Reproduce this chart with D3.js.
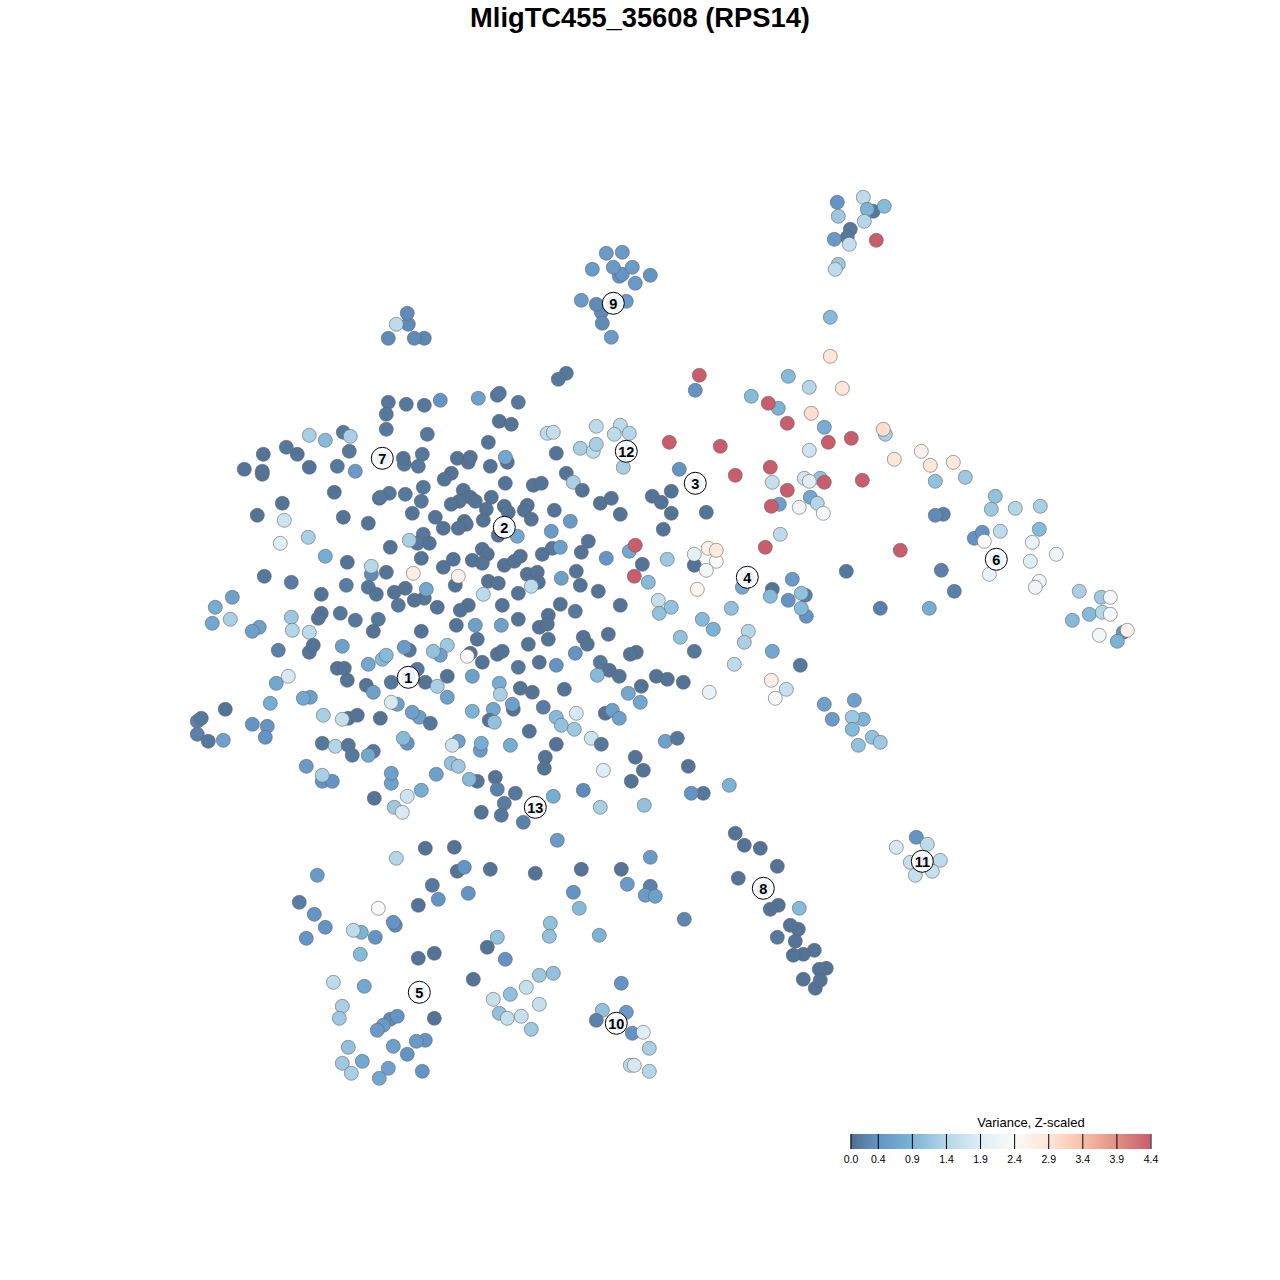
<!DOCTYPE html>
<html>
<head>
<meta charset="utf-8">
<title>MligTC455_35608 (RPS14)</title>
<script src="https://cdn.jsdelivr.net/npm/d3@7"></script>
<style>
  html, body { margin: 0; padding: 0; background: #fff; }
  svg { display: block; font-family: "Liberation Sans", Arial, sans-serif; }
</style>
</head>
<body>
<div id="viz"></div>
<script>
var titleText = "MligTC455_35608 (RPS14)";
var legendTitle = "Variance, Z-scaled";

// cells as [tsne x, tsne y, variance]; dark cells near zero
var cellsUpperLeft = [
  [-25.2,23.8,0.1],[-23.4,23.6,0.1],[-21.6,23.5,0.1],[-25.4,22.6,0.1],[-25.4,21.1,0.1],[-21.3,20.6,0.1],
  [-29.7,20.8,0.1],[-33.1,20.5,1.3],[-31.5,20.0,1.0],[-29.0,20.4,1.3],[-35.4,19.3,0.1],[-34.3,18.6,0.05],
  [-37.7,18.6,0.05],[-29.1,18.9,0.1],[-39.6,17.1,0.05],[-37.8,16.6,0.05],[-37.8,16.9,0.05],[-33.1,17.3,0.05],
  [-30.3,17.4,0.1],[-28.5,16.9,0.5],[-23.6,17.6,0.1],[-23.7,18.2,0.05],[-21.8,18.6,0.1],[-22.2,17.4,0.1],
  [-30.6,14.8,0.05],[-25.1,14.7,0.1],[-26.1,14.2,0.05],[-26.0,14.3,0.1],[-23.5,14.6,0.1],[-21.7,15.3,0.1],
  [-21.9,13.9,0.1],[-35.8,13.7,0.05],[-38.3,12.5,0.05],[-35.6,12.0,1.7],[-29.7,12.3,0.05],[-27.2,11.7,0.05],
  [-22.8,12.7,0.05],[-33.2,10.3,1.3],[-36.0,9.7,1.9],[-31.5,8.4,0.8],[-29.3,7.8,0.05],[-21.7,10.6,0.1],
  [-22.3,9.7,0.1],[-21.1,9.7,0.05],[-23.1,10.0,1.3],[-25.0,9.3,0.05],[-21.9,8.2,0.05],[-26.9,6.6,0.3],
  [-26.9,7.4,1.4],[-25.4,6.8,0.05],[-22.7,6.7,2.7],[-37.6,6.4,0.1],[-34.9,5.8,0.15],[-29.4,5.5,0.15],
  [-27.2,5.3,0.1],[-26.4,4.6,0.05],[-24.6,4.8,0.05],[-23.5,5.2,0.05],[-21.6,4.2,0.1],[-21.4,5.1,0.7],
  [-22.6,4.0,0.05],[-24.2,3.5,0.1],[-31.9,4.6,0.05],[-40.8,4.3,0.6],[-42.5,3.3,0.8],[-31.9,2.7,0.05],
  [-32.2,2.2,0.05],[-30.0,2.7,0.1],[-28.5,2.0,0.1],[-26.2,2.1,0.1],[-34.9,2.3,1.2],[-41.0,2.1,1.3],
  [-42.8,1.7,0.7],[-38.1,1.3,0.6],[-38.8,0.9,0.6],[-34.8,1.0,1.4],[-33.1,0.8,1.5],[-26.7,0.9,0.05],[-21.9,0.9,0.05]
];

var cellsUpperCentre = [
  [-20.0,24.0,0.4],[-16.2,24.2,0.6],[-14.3,24.5,0.1],[-14.1,24.7,0.1],[-12.2,23.8,0.1],[-14.1,21.9,0.05],
  [-12.9,21.6,0.05],[-15.2,19.8,0.05],[-8.4,18.7,0.05],[-9.3,20.7,1.5],[-8.7,20.8,1.6],[-4.4,21.4,1.5],
  [-2.0,21.5,1.5],[-2.6,20.6,1.5],[-1.1,20.7,1.4],[-6.0,19.2,1.3],[-4.7,18.9,1.5],[-4.4,19.6,1.3],
  [-1.7,17.3,1.3],[2.9,19.8,4.4],[3.9,17.1,0.4],[-18.3,18.2,0.05],[-17.2,17.8,0.05],[-17.0,18.3,0.05],
  [-15.0,17.4,0.05],[-13.3,17.8,0.05],[-13.5,18.3,0.7],[-18.9,16.7,0.05],[-19.6,16.1,0.05],[-13.5,15.7,0.05],
  [-10.7,15.5,0.05],[-9.9,15.7,0.05],[-7.4,16.7,0.05],[-6.7,15.8,1.3],[-5.8,15.0,0.05],[-17.7,15.0,0.05],
  [-17.0,14.3,0.05],[-18.1,13.9,0.05],[-18.9,13.6,0.05],[-16.5,13.9,0.05],[-14.9,14.3,0.05],[-13.6,13.4,0.05],
  [-11.3,13.5,0.05],[-13.2,12.8,0.05],[-11.6,13.0,0.05],[-15.4,13.1,0.05],[-8.6,13.0,0.05],[-10.9,12.1,0.05],
  [-20.5,12.3,0.05],[-19.7,11.2,0.05],[-17.6,11.9,0.05],[-17.4,11.6,0.05],[-18.2,11.2,0.05],[-15.7,12.0,0.05],
  [-7.0,11.9,0.5],[-4.0,13.7,0.05],[-2.9,14.2,0.05],[-2.0,12.6,0.05],[1.2,14.4,0.05],[2.1,13.8,0.05],
  [3.1,14.9,0.05],[3.1,12.7,0.05],[2.3,11.1,0.05],[-8.9,10.9,0.5],[-14.2,10.5,0.05],[-12.3,10.4,0.7],
  [-5.2,9.9,0.05],[-5.9,8.8,0.05],[-8.8,9.2,0.1],[-8.0,9.3,0.6],[-9.8,8.6,0.05],[-15.8,9.1,0.05],
  [-15.3,8.6,0.05],[-16.8,8.0,0.05],[-15.8,7.7,0.05],[-18.7,8.1,0.05],[-19.7,7.3,0.05],[-13.6,7.5,0.05],
  [-12.6,7.9,0.05],[-12.0,8.4,0.05],[-3.4,8.2,0.4],[-1.1,8.9,0.7],[-0.5,9.5,4.4],[0.2,7.6,0.05],
  [2.7,8.1,1.2],[-6.4,6.9,0.05],[-0.6,6.4,4.4],[0.8,5.8,1.0],[-11.3,6.6,0.05],[-10.3,6.8,0.05],
  [-10.2,5.8,0.05],[-7.9,6.2,0.6],[-10.9,5.4,1.5],[-15.2,5.9,0.05],[-14.2,5.7,0.05],[-18.5,5.5,0.05],
  [-18.2,6.4,2.6],[-6.0,5.5,0.05],[-4.2,4.9,0.05],[-15.7,4.6,1.5],[-12.2,4.7,0.05],[1.8,4.0,1.6],
  [1.9,2.7,1.1],[3.1,3.3,1.1],[-2.0,3.5,0.05],[-17.2,3.5,0.05],[-18.0,3.0,0.05],[-13.8,3.5,0.05],
  [-20.3,3.3,0.05],[-8.0,3.6,0.05],[-6.5,2.9,0.1],[-9.2,2.5,0.05],[-12.2,2.1,0.05],[-18.4,1.5,0.05],
  [-16.5,1.5,0.6],[-13.9,1.5,0.6],[-10.1,1.3,0.05],[-9.3,1.6,0.05]
];

var cellsLowerLeft = [
  [-36.2,-1.0,0.2],[-33.1,-1.2,0.05],[-32.7,-0.5,0.05],[-29.8,-0.6,0.6],[-23.1,-1.0,0.1],[-23.6,-0.7,0.5],
  [-30.3,-2.8,0.05],[-29.6,-2.8,0.05],[-27.2,-2.4,0.7],[-25.8,-1.9,1.0],[-25.4,-1.5,1.0],[-22.3,-2.9,0.1],
  [-29.3,-4.0,0.05],[-24.9,-4.2,0.1],[-21.5,-4.2,0.05],[-36.4,-4.3,0.7],[-35.2,-3.6,1.8],[-27.4,-4.5,0.05],
  [-26.7,-5.2,0.6],[-37.0,-6.3,0.8],[-33.0,-5.7,0.6],[-33.7,-5.8,0.7],[-24.3,-6.4,0.6],[-24.9,-6.2,1.8],
  [-22.1,-7.7,0.6],[-22.8,-7.2,0.6],[-21.0,-8.3,0.1],[-31.7,-7.5,1.3],[-29.2,-7.8,0.05],[-29.8,-7.9,1.6],
  [-28.3,-7.5,0.05],[-26.0,-7.8,0.05],[-41.5,-6.9,0.05],[-44.3,-8.1,0.2],[-43.9,-7.8,0.1],[-44.3,-9.4,0.2],
  [-43.2,-10.1,0.1],[-41.7,-10.0,0.6],[-38.8,-8.4,0.4],[-37.3,-8.6,0.4],[-37.5,-9.7,0.4],[-31.8,-10.3,0.1],
  [-30.5,-10.6,1.4],[-29.2,-10.5,0.1],[-28.8,-11.5,0.1],[-26.7,-11.1,0.1],[-27.2,-11.5,0.7],[-23.3,-10.3,0.4],
  [-23.7,-9.8,1.0],[-33.4,-12.6,0.5],[-31.8,-14.1,0.4],[-30.8,-14.1,0.4],[-31.8,-13.5,1.3],[-24.9,-14.3,0.6],
  [-24.9,-13.3,0.6],[-21.9,-15.0,0.8],[-26.6,-15.8,0.05],[-23.3,-15.6,1.7],[-24.6,-16.7,1.2],[-23.8,-17.2,1.8]
];

var cellsLowerCentre = [
  [-16.3,0.1,0.05],[-9.2,0.1,0.05],[-11.2,-0.4,0.05],[-5.7,0.3,0.05],[-5.3,-0.4,0.05],[-3.2,0.6,0.05],
  [4.0,0.3,1.1],[-19.3,-0.5,1.2],[-20.0,-1.5,0.6],[-20.7,-1.1,1.1],[-17.0,-1.3,0.05],[-17.3,-1.6,2.4],
  [-15.8,-2.2,0.05],[-14.3,-1.4,0.05],[-13.8,-1.1,0.05],[-6.5,-1.3,0.4],[-0.4,-1.2,0.05],[-1.0,-1.4,0.05],
  [-12.2,-2.7,0.1],[-10.1,-2.2,0.05],[-8.4,-2.5,0.4],[-4.0,-2.2,0.1],[-3.1,-3.0,0.05],[-2.1,-3.6,0.05],
  [-4.3,-3.5,1.0],[-19.3,-3.6,0.05],[-16.8,-3.6,0.6],[1.6,-3.6,0.05],[2.7,-3.9,0.05],[4.3,-4.2,0.05],
  [-14.1,-4.3,0.8],[-20.3,-4.6,1.3],[-12.0,-4.8,0.05],[-10.8,-5.2,0.05],[-7.6,-4.9,0.05],[-14.0,-5.4,1.3],
  [0.1,-4.6,0.05],[-1.2,-5.3,0.7],[0.0,-6.2,0.7],[-19.3,-5.7,0.6],[-12.7,-6.9,0.05],[-12.8,-6.4,0.6],
  [-9.7,-6.7,0.15],[-16.8,-7.1,0.9],[-14.7,-6.9,0.7],[-15.1,-8.0,0.05],[-14.6,-8.2,1.1],[-8.4,-7.7,1.0],
  [-7.9,-8.5,1.1],[-6.4,-7.3,1.8],[-6.6,-8.9,1.2],[-3.5,-7.3,0.05],[-2.8,-7.0,0.6],[-2.1,-7.8,0.6],
  [-11.1,-9.1,0.05],[-4.9,-9.8,1.7],[-3.9,-10.4,0.1],[-18.2,-10.1,0.6],[-18.8,-10.5,1.7],
  [-16.0,-11.0,0.5],[-15.9,-10.3,0.8],[-13.0,-10.5,0.8],[-8.4,-10.4,0.05],[2.5,-10.1,0.6],[3.7,-9.8,0.1],
  [-9.5,-11.7,0.05],[-9.6,-12.8,0.05],[-0.5,-11.7,0.05],[0.3,-13.0,0.05],[-18.9,-12.3,1.1],[-18.2,-12.6,1.2],
  [-3.7,-13.0,1.9],[-20.4,-13.4,0.6],[-16.3,-14.1,0.05],[-17.1,-13.9,1.0],[-14.5,-13.7,0.05],[-0.9,-14.1,0.05],
  [-14.3,-14.9,0.2],[-12.5,-15.3,0.1],[-8.7,-15.6,0.8],[-5.7,-15.0,0.3],[-13.6,-16.3,0.15],[-15.9,-17.2,0.05],
  [-13.9,-17.5,0.1],[-11.7,-18.2,0.2],[-4.0,-16.7,1.3],[0.4,-16.5,1.1],[-8.3,-20.0,0.5]
];

var cellsUpperRight = [
  [5.9,26.5,4.4],[5.5,25.0,0.4],[14.8,26.4,1.0],[16.9,25.3,1.4],[20.2,25.2,2.9],[11.1,24.4,1.0],
  [13.8,23.2,0.9],[12.8,23.7,4.4],[17.1,22.7,3.0],[14.7,21.7,4.4],[18.4,21.3,0.8],[24.5,20.6,1.3],
  [24.3,21.1,3.0],[18.8,19.8,4.4],[21.1,20.2,4.4],[8.0,19.4,4.4],[16.9,19.0,1.7],[25.4,18.1,2.9],
  [13.0,17.3,4.4],[9.5,16.5,4.4],[13.2,15.8,1.6],[18.0,16.2,1.1],[16.4,16.2,1.7],[16.9,15.9,1.9],
  [18.4,15.8,4.4],[22.2,16.0,4.4],[14.7,15.0,4.4],[17.0,14.3,0.7],[13.9,13.6,0.6],[13.1,13.4,4.4],
  [17.7,13.7,1.4],[15.9,13.3,2.2],[18.3,12.7,2.3],[6.6,12.8,0.05],[14.0,10.6,1.5],[12.5,9.3,4.4],
  [26.0,9.0,4.4],[5.4,7.5,0.05],[5.4,8.6,2.0],[6.8,9.2,2.6],[7.6,7.9,2.4],[7.6,9.0,2.8],
  [6.6,7.0,2.3],[5.7,5.1,2.5],[20.6,6.9,0.1],[10.2,5.3,0.7],[15.2,6.1,0.5],[13.2,5.1,0.05],
  [13.0,4.4,1.0],[16.6,2.4,0.4],[16.5,4.5,0.2],[16.1,4.7,1.1],[14.8,4.0,0.4],[16.1,3.2,1.0]
];

var cellsTail = [
  [28.1,18.9,2.6],[29.0,17.5,2.9],[31.3,17.8,2.8],[29.5,15.9,1.1],[32.5,16.3,1.2],[35.5,14.4,1.1],
  [35.1,13.1,1.2],[37.5,13.2,1.4],[40.0,13.4,1.3],[30.3,12.6,0.2],[29.5,12.5,0.3],[33.4,10.2,0.4],
  [34.2,10.8,0.4],[34.4,9.9,2.4],[36.0,10.9,1.5],[39.9,11.1,1.0],[39.2,9.8,2.1],[41.6,8.6,2.2],
  [39.0,7.9,1.9],[30.1,7.0,0.2],[34.9,6.6,2.1],[31.4,4.9,0.2],[39.9,5.9,2.2],[39.5,5.3,2.2],
  [28.9,3.2,0.8],[43.9,4.9,1.3],[46.1,4.3,1.2],[44.9,2.6,1.0],[46.2,2.8,1.4],[47.0,4.3,2.3],
  [47.0,2.6,2.3],[43.2,2.0,1.0],[48.3,0.8,0.4],[48.7,1.0,2.6],[47.7,-0.1,0.9],[45.9,0.5,2.3]
];

var cellsMiddleRight = [
  [24.0,3.2,0.2],[9.1,3.2,1.1],[6.2,2.1,1.0],[7.3,1.1,0.9],[10.8,0.9,1.4],[10.4,-0.2,1.3],
  [5.4,-1.1,0.1],[13.2,-1.1,0.7],[9.4,-2.4,1.5],[16.0,-2.5,0.1],[13.1,-4.0,2.7],[14.6,-4.9,1.6],
  [13.5,-5.8,2.4],[6.9,-5.2,2.1],[18.4,-6.4,0.6],[21.4,-6.0,0.6],[19.2,-7.9,0.5],[22.3,-7.9,0.9],
  [21.2,-7.7,1.2],[21.2,-8.9,1.0],[23.2,-9.7,1.1],[24.0,-10.2,1.2],[21.8,-10.5,1.1],[4.8,-12.6,0.05],
  [8.9,-14.5,0.9],[6.3,-15.3,0.1],[5.1,-15.3,0.4]
];

var cellsLowerRight = [
  [9.5,-19.3,0.05],[10.4,-20.5,0.05],[12.0,-20.8,0.05],[13.7,-22.6,0.05],[9.8,-23.8,0.05],[13.8,-26.5,0.05],
  [13.0,-26.9,0.05],[15.9,-26.8,1.0],[15.8,-28.9,0.05],[15.0,-28.5,0.05],[13.7,-29.7,0.1],[15.5,-30.1,0.05],
  [17.4,-31.0,0.05],[16.3,-31.4,0.05],[15.3,-31.5,0.05],[18.6,-32.8,0.05],[17.9,-32.9,0.05],[16.3,-33.9,0.05],
  [17.5,-34.8,0.05],[18.0,-34.0,0.05],[27.6,-19.7,0.4],[28.7,-20.4,1.5],[25.6,-20.7,1.8],[27.0,-22.2,1.6],
  [30.0,-22.0,1.5],[29.2,-23.1,1.6],[27.5,-23.5,1.6]
];

var cellsBottom = [
  [-21.5,-20.8,0.05],[-18.6,-20.7,0.05],[-24.4,-21.8,1.4],[-18.3,-23.1,0.05],[-17.6,-22.7,0.4],[-15.0,-22.9,0.05],
  [-32.3,-23.5,0.5],[-20.8,-24.5,0.1],[-17.2,-25.3,0.4],[-34.1,-26.2,0.15],[-20.2,-25.9,0.4],[-22.2,-26.5,0.05],
  [-32.6,-27.4,0.4],[-26.2,-26.8,2.4],[-24.5,-28.5,0.3],[-24.7,-28.2,0.4],[-31.5,-28.7,0.4],[-27.9,-29.2,0.9],
  [-28.7,-29.0,1.5],[-26.5,-29.7,0.4],[-33.4,-29.8,0.4],[-28.0,-31.4,1.0],[-14.3,-29.7,1.1],[-15.3,-30.7,0.05],
  [-13.5,-31.9,0.4],[-22.2,-31.8,0.05],[-20.6,-31.3,0.05],[-30.7,-34.2,1.5],[-27.6,-34.6,0.7],[-16.7,-33.9,0.05],
  [-13.0,-35.4,1.1],[-11.4,-34.7,1.6],[-14.7,-35.9,1.6],[-29.8,-36.6,1.3],[-30.1,-37.8,1.2],[-14.1,-37.3,1.1],
  [-13.3,-37.8,1.6],[-11.9,-37.6,1.6],[-10.9,-38.9,1.2],[-20.6,-37.8,0.05],[-25.0,-37.9,0.3],[-24.3,-37.6,0.4],
  [-25.7,-38.5,0.5],[-26.3,-39.0,0.5],[-21.5,-40.0,0.4],[-22.4,-40.1,0.5],[-24.7,-40.6,0.6],[-29.2,-40.7,1.1],
  [-23.3,-41.4,0.4],[-29.8,-42.3,1.2],[-27.8,-42.1,0.7],[-28.9,-43.3,1.3],[-25.2,-42.8,0.6],[-21.8,-43.1,0.4],
  [-26.1,-43.8,0.7],[-10.5,-23.3,0.05],[-5.9,-22.9,0.05],[-1.9,-22.9,0.05],[1.0,-21.7,0.5],[-1.3,-24.4,0.5],
  [1.0,-24.6,0.2],[0.5,-25.5,0.5],[1.5,-25.6,0.6],[-6.7,-25.2,0.4],[-6.1,-26.8,1.0],[4.4,-27.9,0.25],
  [-9.0,-28.3,1.1],[-9.1,-29.6,1.1],[-4.1,-29.5,0.9],[-1.9,-34.3,0.4],[-10.1,-33.5,1.2],[-8.7,-33.3,1.1],
  [-10.1,-36.4,1.6],[-3.8,-37.0,1.1],[-1.4,-37.2,0.5],[-4.4,-38.0,0.2],[-0.8,-39.3,0.4],[0.3,-39.2,1.9],
  [0.9,-40.8,1.3],[-1.0,-42.5,1.5],[-0.6,-42.5,1.8],[0.9,-43.1,1.4]
];

var cellsTop = [
  [-3.4,38.7,0.5],[-1.8,38.8,0.5],[-4.8,37.1,0.5],[-2.1,36.4,0.4],[-1.8,36.6,0.4],[-2.7,37.3,0.5],
  [-0.8,37.3,0.5],[1.0,36.5,0.4],[-0.5,35.7,0.5],[-5.9,34.0,0.5],[-1.4,33.9,0.5],[-3.9,32.8,0.3],
  [-4.4,33.6,0.3],[-3.8,31.7,0.3],[-2.9,30.3,0.5],[-23.2,31.6,0.3],[-23.3,32.7,0.3],[-24.4,31.6,1.5],
  [-25.2,30.2,0.3],[-21.6,30.2,0.25],[-22.6,30.2,0.3],[-7.4,26.7,0.1],[-8.2,26.1,0.1],
  [22.3,44.3,1.5],[19.7,43.8,0.4],[23.3,42.9,0.1],[22.7,43.1,0.9],[24.4,43.4,1.0],[19.8,42.4,1.2],
  [22.4,41.9,1.4],[21.0,41.1,0.1],[20.7,40.3,0.1],[19.4,40.1,0.5],[20.9,39.6,1.6],[23.6,40.0,4.4],
  [19.8,37.6,1.2],[19.5,37.1,1.5],[19.0,32.3,1.0],[19.0,28.4,2.9]
];

var allCells = [].concat(cellsUpperLeft, cellsUpperCentre, cellsLowerLeft, cellsLowerCentre,
  cellsUpperRight, cellsTail, cellsMiddleRight, cellsLowerRight, cellsBottom, cellsTop);

var clusterNames = ["1","2","3","4","5","6","7","8","9","10","11","12","13"];
var clusterX = [-23.2,-13.6,5.5,10.7,-22.1,35.6,-25.8,12.3,-2.7,-2.4,28.2,-1.4,-10.5];
var clusterY = [-3.7,11.3,15.7,6.3,-35.2,8.1,18.2,-24.8,33.7,-38.3,-22.1,18.9,-16.7];

var legendTicks = [0,0.4,0.9,1.4,1.9,2.4,2.9,3.4,3.9,4.4];
var legendColours = ["#053061","#2166AC","#4393C3","#92C5DE","#D1E5F0","#F7F7F7","#FDDBC7","#F4A582","#D6604D","#B2182B"];

var width = 1280, height = 1280;

var svg = d3.select("#viz").append("svg")
    .attr("width", width)
    .attr("height", height);

// Position scales, the plot fills the whole page
var x = d3.scaleLinear().domain([-64, 64]).range([0.3, width + 0.3]);
var y = d3.scaleLinear().domain([-64, 64]).range([height + 0.3, 0.3]);

// Colours are washed with white but the dots stay opaque
var colour = d3.scaleLinear()
    .domain(legendTicks)
    .range(legendColours.map(function(c) { return d3.interpolateRgb("#fff", c)(0.7); }));

svg.append("text")
    .attr("x", 640)
    .attr("y", 27)
    .attr("text-anchor", "middle")
    .style("font-size", "27.3px")
    .style("font-weight", "bold")
    .text(titleText);

svg.append("g").selectAll("circle")
    .data(allCells)
    .join("circle")
    .attr("cx", function(d) { return x(d[0]); })
    .attr("cy", function(d) { return y(d[1]); })
    .attr("r", 7)
    .attr("fill", function(d) { return colour(d[2]); })
    .attr("stroke", "#666")
    .attr("stroke-opacity", 0.6)
    .attr("stroke-width", 1);

// Cluster labels
var label = svg.append("g").selectAll("g")
    .data(clusterNames)
    .join("g")
    .attr("transform", function(d, i) { return "translate(" + x(clusterX[i]) + "," + y(clusterY[i]) + ")"; });
label.append("circle")
    .attr("r", 11)
    .attr("fill", "#fff")
    .attr("stroke", "#000")
    .attr("stroke-width", 1);
label.append("circle")
    .attr("r", 7)
    .attr("fill", "#D1E5F0")
    .attr("opacity", 0.45);
label.append("text")
    .attr("text-anchor", "middle")
    .attr("dy", "0.36em")
    .style("font-size", "14.5px")
    .style("font-weight", "bold")
    .text(function(d) { return d; });

// Colour legend
var legendX = d3.scaleLinear().domain([0, 4.4]).range([850.5, 1150.5]);
var legendTop = 1134, legendHeight = 15;
var legend = svg.append("g");

var gradient = svg.append("defs").append("linearGradient")
    .attr("id", "legendRamp");
gradient.selectAll("stop")
    .data(legendTicks)
    .join("stop")
    .attr("offset", function(d) { return d / 4.4; })
    .attr("stop-color", function(d) { return colour(d); });

legend.append("rect")
    .attr("x", legendX(0))
    .attr("y", legendTop)
    .attr("width", legendX(4.4) - legendX(0))
    .attr("height", legendHeight)
    .attr("fill", "url(#legendRamp)");

legend.append("text")
    .attr("x", 1031)
    .attr("y", 1127)
    .attr("text-anchor", "middle")
    .style("font-size", "13px")
    .text(legendTitle);

var legendAxis = d3.axisBottom(legendX)
    .tickValues(legendTicks)
    .tickFormat(d3.format(".1f"))
    .tickSize(legendHeight)
    .tickPadding(7);

legend.append("g")
    .attr("transform", "translate(0," + legendTop + ")")
    .call(legendAxis)
    .call(function(g) { g.select(".domain").remove(); })
    .call(function(g) { g.selectAll("text").style("font-family", "Liberation Sans").style("font-size", "10.5px").attr("fill", "#000"); })
    .call(function(g) { g.selectAll("line").attr("stroke", "#000"); });
</script>
</body>
</html>
